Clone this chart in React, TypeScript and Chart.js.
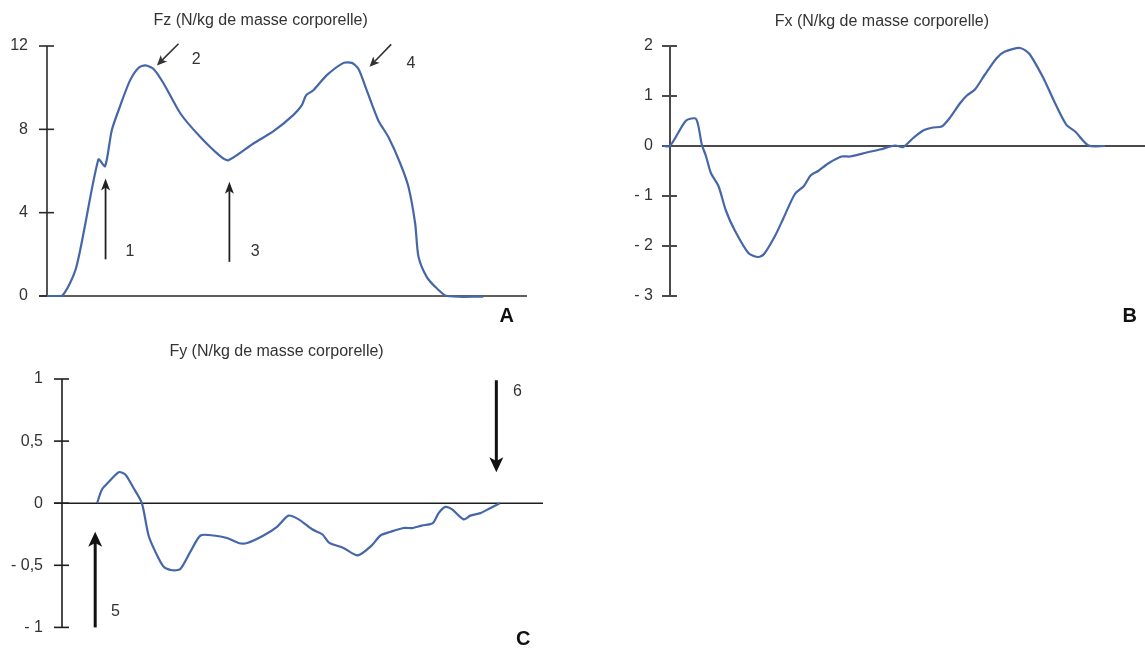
import React, { useEffect, useRef } from "react";
import { Chart, registerables } from "chart.js";

Chart.register(...registerables);

const FONT = "'Liberation Sans', Arial, Helvetica, sans-serif";
const CURVE_COLOR = "#4566a8";

// ---- Panel A : Fz ----
const fzTitle = "Fz (N/kg de masse corporelle)";
const fzTime = [0, 3.1, 6.1, 10.7, 12.1, 13.5, 15.3, 17.3, 19.1, 20.5, 22.2, 24.3, 27.8, 31.9, 36.1, 37.8, 43.0, 47.2, 51.3, 53.1, 54.0, 55.5, 58.3, 61.8, 63.5, 64.9, 66.6, 69.0, 71.1, 73.6, 75.3, 76.7, 77.4, 79.1, 81.2, 83.3, 90.9];
const fzValues = [0, 0, 1.38, 6.55, 6.23, 7.96, 9.16, 10.35, 10.96, 11.07, 10.9, 10.2, 8.76, 7.64, 6.71, 6.52, 7.32, 7.91, 8.68, 9.16, 9.64, 9.88, 10.6, 11.19, 11.19, 10.9, 9.88, 8.44, 7.64, 6.36, 5.24, 3.48, 1.88, 0.92, 0.37, 0, -0.03];
const fzTicks = [0, 4, 8, 12];

// ---- Panel B : Fx ----
const fxTitle = "Fx (N/kg de masse corporelle)";
const fxTime = [-1.4, 0, 3.4, 5.5, 6.7, 7.6, 8.6, 10.2, 11.8, 13.7, 16.5, 18.6, 19.8, 22.1, 23.9, 26.3, 28.2, 29.6, 31.2, 33.3, 36.1, 37.9, 41.4, 44.2, 47.4, 49.1, 51.2, 53.3, 55.4, 57.2, 58.9, 61.1, 62.5, 64.2, 66.3, 68.8, 70.5, 73.7, 75.6, 78.6, 80.7, 83.4, 85.3, 88.1, 91.6];
const fxValues = [0, 0, 0.51, 0.54, 0.03, -0.21, -0.54, -0.8, -1.3, -1.7, -2.14, -2.22, -2.16, -1.8, -1.44, -0.96, -0.8, -0.59, -0.5, -0.35, -0.21, -0.21, -0.13, -0.07, 0.01, -0.02, 0.16, 0.31, 0.37, 0.39, 0.56, 0.86, 1.01, 1.13, 1.43, 1.76, 1.89, 1.96, 1.85, 1.36, 0.93, 0.43, 0.29, 0.01, 0];
const fxTicks = [-3, -2, -1, 0, 1, 2];

// ---- Panel C : Fy ----
const fyTitle = "Fy (N/kg de masse corporelle)";
const fyTime = [7.3, 8.3, 9.7, 11.8, 13.2, 14.9, 16.6, 18.0, 19.4, 21.1, 22.9, 24.6, 26.7, 28.8, 31.5, 34.3, 36.7, 38.5, 41.9, 44.7, 47.1, 49.2, 52.0, 54.1, 55.6, 58.5, 61.5, 64.4, 66.2, 68.3, 71.0, 72.8, 74.8, 77.1, 78.3, 79.7, 81.1, 83.5, 84.9, 87.0, 89.0, 91.0];
const fyValues = [0, 0.11, 0.17, 0.25, 0.23, 0.12, 0, -0.26, -0.39, -0.51, -0.54, -0.53, -0.39, -0.26, -0.26, -0.28, -0.32, -0.32, -0.26, -0.19, -0.1, -0.13, -0.21, -0.25, -0.32, -0.36, -0.42, -0.34, -0.26, -0.23, -0.2, -0.2, -0.18, -0.16, -0.08, -0.03, -0.05, -0.13, -0.1, -0.08, -0.04, 0];
const fyTicks = [-1, -0.5, 0, 0.5, 1];

// ---- annotations (data coordinates) ----
type Arrow = { x1: number; y1: number; x2: number; y2: number; kind: "thin" | "diag" | "bold" };
type Note = { x: number; y: number; text: string };

const fzArrows: Arrow[] = [
  { x1: 12.2, y1: 1.76, x2: 12.2, y2: 5.64, kind: "thin" },
  { x1: 38.0, y1: 1.64, x2: 38.0, y2: 5.48, kind: "thin" },
  { x1: 27.4, y1: 12.11, x2: 22.9, y2: 11.07, kind: "diag" },
  { x1: 71.7, y1: 12.08, x2: 67.2, y2: 11.0, kind: "diag" },
];
const fzNotes: Note[] = [
  { x: 17.3, y: 2.12, text: "1" },
  { x: 31.1, y: 11.35, text: "2" },
  { x: 43.4, y: 2.12, text: "3" },
  { x: 75.8, y: 11.16, text: "4" },
];
const fyArrows: Arrow[] = [
  { x1: 6.9, y1: -1.0, x2: 6.9, y2: -0.23, kind: "bold" },
  { x1: 90.3, y1: 0.99, x2: 90.3, y2: 0.25, kind: "bold" },
];
const fyNotes: Note[] = [
  { x: 11.1, y: -0.87, text: "5" },
  { x: 94.7, y: 0.9, text: "6" },
];

const ARROW_STYLE = {
  thin: { lw: 1.8, len: 12, w: 9, color: "#222" },
  diag: { lw: 1.6, len: 10, w: 9, color: "#333" },
  bold: { lw: 3, len: 15, w: 14, color: "#111" },
};

type PanelCfg = {
  left: number; top: number; w: number; h: number;
  axisWidth: number; labelPad: number;
  padding: { top: number; right: number; bottom: number; left: number };
  yMin: number; yMax: number; ticks: number[];
  time: number[]; values: number[];
  title: string; titleX: number; titleY: number;
  letter: string; letterX: number; letterY: number;
  arrows: Arrow[]; notes: Note[];
  axisLw: number; zeroLw: number; axisColor: string;
};

const fmt = (v: number) => {
  const s = String(Math.abs(v)).replace(".", ",");
  return v < 0 ? "- " + s : s;
};

function drawArrow(ctx: CanvasRenderingContext2D, x1: number, y1: number, x2: number, y2: number, kind: Arrow["kind"]) {
  const st = ARROW_STYLE[kind];
  const ang = Math.atan2(y2 - y1, x2 - x1);
  const bx = x2 - Math.cos(ang) * st.len * 0.7;
  const by = y2 - Math.sin(ang) * st.len * 0.7;
  ctx.save();
  ctx.strokeStyle = st.color;
  ctx.fillStyle = st.color;
  ctx.lineWidth = st.lw;
  ctx.beginPath();
  ctx.moveTo(x1, y1);
  ctx.lineTo(bx, by);
  ctx.stroke();
  ctx.translate(x2, y2);
  ctx.rotate(ang);
  ctx.beginPath();
  ctx.moveTo(0, 0);
  ctx.lineTo(-st.len, st.w / 2);
  ctx.lineTo(-st.len * 0.75, 0);
  ctx.lineTo(-st.len, -st.w / 2);
  ctx.closePath();
  ctx.fill();
  ctx.restore();
}

const decor = (cfg: PanelCfg) => ({
  id: "decor",
  beforeDatasetsDraw(chart: any) {
    const { ctx, chartArea } = chart;
    const ys = chart.scales.y;
    const ax = chartArea.left;
    ctx.save();
    ctx.strokeStyle = cfg.axisColor;
    ctx.lineWidth = cfg.axisLw;
    ctx.beginPath();
    ctx.moveTo(ax, ys.getPixelForValue(cfg.yMax));
    ctx.lineTo(ax, ys.getPixelForValue(cfg.yMin));
    ctx.stroke();
    cfg.ticks.forEach((v) => {
      const py = ys.getPixelForValue(v);
      ctx.beginPath();
      ctx.moveTo(ax - 8, py);
      ctx.lineTo(ax + 7, py);
      ctx.stroke();
    });
    const zy = ys.getPixelForValue(0);
    ctx.lineWidth = cfg.zeroLw;
    ctx.beginPath();
    ctx.moveTo(ax - 8, zy);
    ctx.lineTo(chartArea.right, zy);
    ctx.stroke();
    ctx.restore();
  },
  afterDatasetsDraw(chart: any) {
    const { ctx } = chart;
    const xs = chart.scales.x;
    const ys = chart.scales.y;
    const px = (v: number) => xs.getPixelForValue(v);
    const py = (v: number) => ys.getPixelForValue(v);
    cfg.arrows.forEach((a) => drawArrow(ctx, px(a.x1), py(a.y1), px(a.x2), py(a.y2), a.kind));
    ctx.save();
    ctx.textAlign = "center";
    ctx.textBaseline = "middle";
    ctx.fillStyle = "#333";
    ctx.font = `16px ${FONT}`;
    cfg.notes.forEach((n) => ctx.fillText(n.text, px(n.x), py(n.y)));
    ctx.fillText(cfg.title, px(cfg.titleX), py(cfg.titleY));
    ctx.fillStyle = "#111";
    ctx.font = `bold 20px ${FONT}`;
    ctx.fillText(cfg.letter, px(cfg.letterX), py(cfg.letterY));
    ctx.restore();
  },
});

const panels: PanelCfg[] = [
  {
    left: 0, top: 0, w: 560, h: 330, axisWidth: 47, labelPad: 19,
    padding: { top: 46, right: 33, bottom: 34, left: 0 },
    yMin: 0, yMax: 12, ticks: fzTicks, time: fzTime, values: fzValues,
    title: fzTitle, titleX: 44.5, titleY: 13.2,
    letter: "A", letterX: 95.8, letterY: -0.96,
    arrows: fzArrows, notes: fzNotes, axisLw: 1.6, zeroLw: 1.6, axisColor: "#2a2a2a",
  },
  {
    left: 580, top: 0, w: 565, h: 330, axisWidth: 90, labelPad: 17,
    padding: { top: 46, right: 0, bottom: 34, left: 0 },
    yMin: -3, yMax: 2, ticks: fxTicks, time: fxTime, values: fxValues,
    title: fxTitle, titleX: 44.6, titleY: 2.48,
    letter: "B", letterX: 96.8, letterY: -3.4,
    arrows: [], notes: [], axisLw: 2, zeroLw: 2, axisColor: "#4a4a4a",
  },
  {
    left: 0, top: 330, w: 580, h: 326, axisWidth: 62, labelPad: 19,
    padding: { top: 49, right: 37, bottom: 22, left: 0 },
    yMin: -1, yMax: 1, ticks: fyTicks, time: fyTime, values: fyValues,
    title: fyTitle, titleX: 44.6, titleY: 1.22,
    letter: "C", letterX: 95.9, letterY: -1.1,
    arrows: fyArrows, notes: fyNotes, axisLw: 1.6, zeroLw: 1.6, axisColor: "#1e1e1e",
  },
];

function Panel({ cfg }: { cfg: PanelCfg }) {
  const ref = useRef<HTMLCanvasElement>(null);
  useEffect(() => {
    const chart = new Chart(ref.current as HTMLCanvasElement, {
      type: "line",
      data: {
        datasets: [
          {
            data: cfg.time.map((t, i) => ({ x: t, y: cfg.values[i] })),
            borderColor: CURVE_COLOR,
            borderWidth: 2.2,
            pointRadius: 0,
            tension: 0.25,
            fill: false,
            clip: false as any,
          },
        ],
      },
      options: {
        responsive: false,
        animation: false,
        devicePixelRatio: 1,
        layout: { padding: cfg.padding },
        plugins: {
          legend: { display: false },
          tooltip: { enabled: false },
          title: { display: false },
        },
        scales: {
          x: { type: "linear", display: false, min: 0, max: 100 },
          y: {
            type: "linear",
            min: cfg.yMin,
            max: cfg.yMax,
            afterFit: (s: any) => {
              s.width = cfg.axisWidth;
            },
            afterBuildTicks: (s: any) => {
              s.ticks = cfg.ticks.map((v) => ({ value: v }));
            },
            grid: { display: false, drawTicks: false },
            border: { display: false },
            ticks: {
              color: "#333",
              font: { family: FONT, size: 16 },
              padding: cfg.labelPad,
              callback: (v: any) => fmt(Number(v)),
            },
          },
        },
      } as any,
      plugins: [decor(cfg)],
    });
    return () => chart.destroy();
  }, []);
  return (
    <canvas
      ref={ref}
      width={cfg.w}
      height={cfg.h}
      style={{ position: "absolute", left: cfg.left, top: cfg.top, width: cfg.w, height: cfg.h }}
    />
  );
}

export default function App() {
  return (
    <div style={{ position: "absolute", left: 0, top: 0, width: 1145, height: 656, background: "#fff", overflow: "hidden" }}>
      {panels.map((p) => (
        <Panel key={p.letter} cfg={p} />
      ))}
    </div>
  );
}
